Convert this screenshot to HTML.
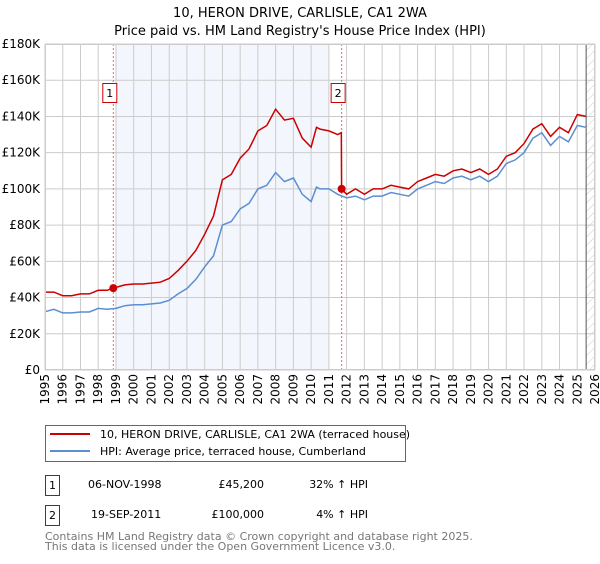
<!DOCTYPE html>
<html><head><meta charset="utf-8"><style>
body{margin:0;background:#fff;font-family:"DejaVu Sans","Liberation Sans",sans-serif;}
svg text{font-family:"DejaVu Sans","Liberation Sans",sans-serif;}
</style></head><body>
<svg id="c" width="600" height="560" xmlns="http://www.w3.org/2000/svg">
<defs><pattern id="hatch" width="6" height="6" patternUnits="userSpaceOnUse" patternTransform="rotate(45)"><line x1="0" y1="0" x2="0" y2="6" stroke="#ccc" stroke-width="1"/></pattern></defs>
<text x="300" y="17" text-anchor="middle" font-size="13" fill="#000">10, HERON DRIVE, CARLISLE, CA1 2WA</text>
<text x="300" y="35" text-anchor="middle" font-size="13" fill="#000">Price paid vs. HM Land Registry's House Price Index (HPI)</text>
<g id="plot"></g>
<g>
<rect x="45.5" y="425.5" width="360" height="36" fill="#fff" stroke="#666"/>
<line x1="50" y1="434" x2="90" y2="434" stroke="#cc0000" stroke-width="2"/>
<text x="100" y="438" font-size="11">10, HERON DRIVE, CARLISLE, CA1 2WA (terraced house)</text>
<line x1="50" y1="451" x2="90" y2="451" stroke="#5b8fd0" stroke-width="2"/>
<text x="100" y="455" font-size="11">HPI: Average price, terraced house, Cumberland</text>
</g>
<g font-size="11">
<rect x="45.5" y="475.5" width="14" height="20" fill="#fff" stroke="#cc0000"/>
<text x="52.5" y="489" text-anchor="middle">1</text>
<text x="88" y="488">06-NOV-1998</text>
<text x="264" y="488" text-anchor="end">£45,200</text>
<text x="368" y="488" text-anchor="end">32% ↑ HPI</text>
<rect x="45.5" y="505.5" width="14" height="20" fill="#fff" stroke="#cc0000"/>
<text x="52.5" y="519" text-anchor="middle">2</text>
<text x="91" y="518">19-SEP-2011</text>
<text x="264" y="518" text-anchor="end">£100,000</text>
<text x="368" y="518" text-anchor="end">4% ↑ HPI</text>
</g>
<text x="45" y="540" font-size="11" fill="#777">Contains HM Land Registry data © Crown copyright and database right 2025.</text>
<text x="45" y="550" font-size="11" fill="#777">This data is licensed under the Open Government Licence v3.0.</text>
</svg>
<script>
const hpiYears=[1995,1995.5,1996,1996.5,1997,1997.5,1998,1998.5,1999,1999.5,2000,2000.5,2001,2001.5,2002,2002.5,2003,2003.5,2004,2004.5,2005,2005.5,2006,2006.5,2007,2007.5,2008,2008.5,2009,2009.5,2010,2010.3,2010.5,2011,2011.5,2012,2012.5,2013,2013.5,2014,2014.5,2015,2015.5,2016,2016.5,2017,2017.5,2018,2018.5,2019,2019.5,2020,2020.5,2021,2021.5,2022,2022.5,2023,2023.5,2024,2024.5,2025,2025.5];
const hpiValues=[32.2,33.5,31.5,31.5,32,32,34,33.5,34,35.5,36,36,36.5,37,38.5,42,45,50,57,63,80,82,89,92,100,102,109,104,106,97,93,101,100,100,97,95,96,94,96,96,98,97,96,100,102,104,103,106,107,105,107,104,107,114,116,120,128,131,124,129,126,135,134];
const priceYears=[1995,1995.5,1996,1996.5,1997,1997.5,1998,1998.5,1998.85,1999.5,2000,2000.5,2001,2001.5,2002,2002.5,2003,2003.5,2004,2004.5,2005,2005.5,2006,2006.5,2007,2007.5,2008,2008.5,2009,2009.5,2010,2010.3,2010.5,2011,2011.5,2011.7,2011.72,2012,2012.5,2013,2013.5,2014,2014.5,2015,2015.5,2016,2016.5,2017,2017.5,2018,2018.5,2019,2019.5,2020,2020.5,2021,2021.5,2022,2022.5,2023,2023.5,2024,2024.5,2025,2025.5];
const priceValues=[43,43,41,41,42,42,44,44,45.2,47,47.5,47.5,48,48.5,50.5,55,60,66,75,85,105,108,117,122,132,135,144,138,139,128,123,134,133,132,130,131,100,97,100,97,100,100,102,101,100,104,106,108,107,110,111,109,111,108,111,118,120,125,133,136,129,134,131,141,140];
const saleYears=[1998.85,2011.72];
const saleValues=[45.2,100];
const saleLabels=["1","2"];
const yTicks=[0,20,40,60,80,100,120,140,160,180];
const yTickLabels=["£0","£20K","£40K","£60K","£80K","£100K","£120K","£140K","£160K","£180K"];
const xTicks=[];for(let y=1995;y<=2026;y++)xTicks.push(y);

const X0=45,X1=595,Y0=370,Y1=44;
const xs=v=>X0+(v-1995)/(2026-1995)*(X1-X0);
const ys=v=>Y0-v/180*(Y0-Y1);
const NS="http://www.w3.org/2000/svg";
const g=document.getElementById('plot');
function mk(t,a){const e=document.createElementNS(NS,t);for(const k in a)e.setAttribute(k,a[k]);g.appendChild(e);return e;}
let e;
e=mk('rect',{x:xs(1999),y:Y1,width:xs(2011)-xs(1999),height:Y0-Y1,fill:'#f3f6fd'});


e=mk('rect',{x:xs(2025.5),y:Y1,width:X1-xs(2025.5),height:Y0-Y1,fill:'url(#hatch)'});


xTicks.forEach(t=>{
 e=mk('line',{x1:xs(t),x2:xs(t),y1:Y1,y2:Y0,stroke:'#ccc','stroke-width':1});
 
 
 e=mk('text',{x:0,y:0,'font-size':12,'text-anchor':'end',transform:`translate(${xs(t)+4},${Y0+4}) rotate(-90)`});
 e.textContent=t;
 
 
});
yTicks.forEach((t,i)=>{
 e=mk('line',{x1:X0,x2:X1,y1:ys(t),y2:ys(t),stroke:'#ccc','stroke-width':1});
 
 
 e=mk('text',{x:40,y:ys(t)+4,'font-size':12,'text-anchor':'end'});
 e.textContent=yTickLabels[i];
 
 
});
e=mk('line',{x1:xs(2025.5),x2:xs(2025.5),y1:Y1,y2:Y0,stroke:'#555','stroke-width':1});


saleYears.forEach((s,i)=>{
 e=mk('line',{x1:xs(s),x2:xs(s),y1:Y1,y2:Y0,stroke:'#e66','stroke-width':1,'stroke-dasharray':'2,2'});
 
 
 e=mk('rect',{x:xs(s)-10.5,y:83.5,width:14,height:19,fill:'#fff',stroke:'#cc0000'});
 
 
 e=mk('text',{x:xs(s)-3.5,y:97,'font-size':11,'text-anchor':'middle'});
 e.textContent=saleLabels[i];
 
 
});
const pts=(xa,va)=>xa.map((x,i)=>xs(x).toFixed(1)+','+ys(va[i]).toFixed(1)).join(' ');
e=mk('polyline',{points:pts(hpiYears,hpiValues),fill:'none',stroke:'#5b8fd0','stroke-width':1.5});


e=mk('polyline',{points:pts(priceYears,priceValues),fill:'none',stroke:'#cc0000','stroke-width':1.5});


saleYears.forEach((s,i)=>{
 e=mk('circle',{cx:xs(s),cy:ys(saleValues[i]),r:4,fill:'#cc0000'});
 
 
});
e=mk('rect',{x:X0+0.5,y:Y1+0.5,width:X1-X0-1,height:Y0-Y1-1,fill:'none',stroke:'#ccc'});


</script>
</body></html>
